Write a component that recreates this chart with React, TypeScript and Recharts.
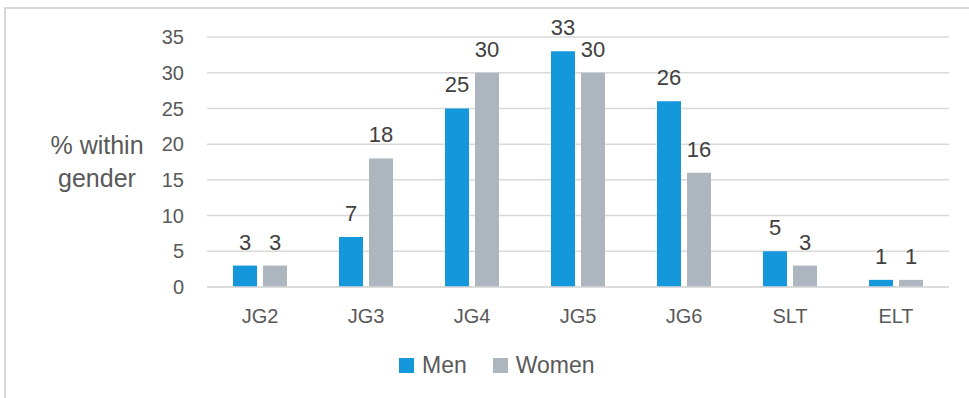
import React from 'react';
import { BarChart, Bar, XAxis, YAxis, CartesianGrid, Legend, LabelList } from 'recharts';

// job grade distribution, % within gender
const categories = ['JG2', 'JG3', 'JG4', 'JG5', 'JG6', 'SLT', 'ELT'];
const men = [3, 7, 25, 33, 26, 5, 1];
const women = [3, 18, 30, 30, 16, 3, 1];
const yTicks = [0, 5, 10, 15, 20, 25, 30, 35];

const MEN_COLOR = '#1597DB';
const WOMEN_COLOR = '#ADB6BF';
const GRID = '#D9D9D9';
const TEXT = '#595959';
const FONT = '"Liberation Sans", Arial, sans-serif';

const data = categories.map((name, i) => ({ name, Men: men[i], Women: women[i] }));

const AxisTitle = () => (
  <text textAnchor="middle" fill={TEXT} fontSize={25} fontFamily={FONT}>
    <tspan x={97} y={154}>% within</tspan>
    <tspan x={97} y={187}>gender</tspan>
  </text>
);

const LegendContent = () => (
  <div style={{ display: 'flex', alignItems: 'center', fontFamily: FONT, fontSize: 23, color: TEXT }}>
    {[
      { label: 'Men', color: MEN_COLOR },
      { label: 'Women', color: WOMEN_COLOR },
    ].map((item, i) => (
      <div key={item.label} style={{ display: 'flex', alignItems: 'center', marginLeft: i ? 26 : 0 }}>
        <span style={{ width: 15, height: 15, background: item.color, marginRight: 8, display: 'inline-block' }} />
        <span>{item.label}</span>
      </div>
    ))}
  </div>
);

export default function App() {
  return (
    <div style={{ position: 'absolute', left: 0, top: 0, width: 969, height: 398, background: '#fff', overflow: 'hidden' }}>
      <div
        style={{
          position: 'absolute',
          left: 4,
          top: 7,
          width: 980,
          height: 400,
          borderLeft: `2px solid ${GRID}`,
          borderTop: `2px solid ${GRID}`,
        }}
      />
      <BarChart
        width={969}
        height={398}
        data={data}
        margin={{ top: 37, right: 20, left: 0, bottom: 31 }}
        barSize={24}
        barGap={6}
        style={{ position: 'absolute', left: 0, top: 0 }}
      >
        <CartesianGrid vertical={false} stroke={GRID} strokeWidth={1.5} />
        <XAxis
          dataKey="name"
          height={40}
          axisLine={{ stroke: GRID, strokeWidth: 1.5 }}
          tickLine={false}
          tickMargin={16}
          tick={{ fill: TEXT, fontSize: 20, fontFamily: FONT }}
        />
        <YAxis
          width={207}
          domain={[0, 35]}
          ticks={yTicks}
          axisLine={false}
          tickLine={false}
          tickMargin={17}
          tick={{ fill: TEXT, fontSize: 20, fontFamily: FONT }}
          label={<AxisTitle />}
        />
        <Legend
          verticalAlign="bottom"
          height={40}
          content={<LegendContent />}
          wrapperStyle={{ left: 399, top: 352, bottom: 'auto', width: 'auto' }}
        />
        <Bar dataKey="Men" fill={MEN_COLOR} isAnimationActive={false}>
          <LabelList dataKey="Men" position="top" offset={16} fill="#404040" fontSize={22} fontFamily={FONT} />
        </Bar>
        <Bar dataKey="Women" fill={WOMEN_COLOR} isAnimationActive={false}>
          <LabelList dataKey="Women" position="top" offset={16} fill="#404040" fontSize={22} fontFamily={FONT} />
        </Bar>
      </BarChart>
    </div>
  );
}
